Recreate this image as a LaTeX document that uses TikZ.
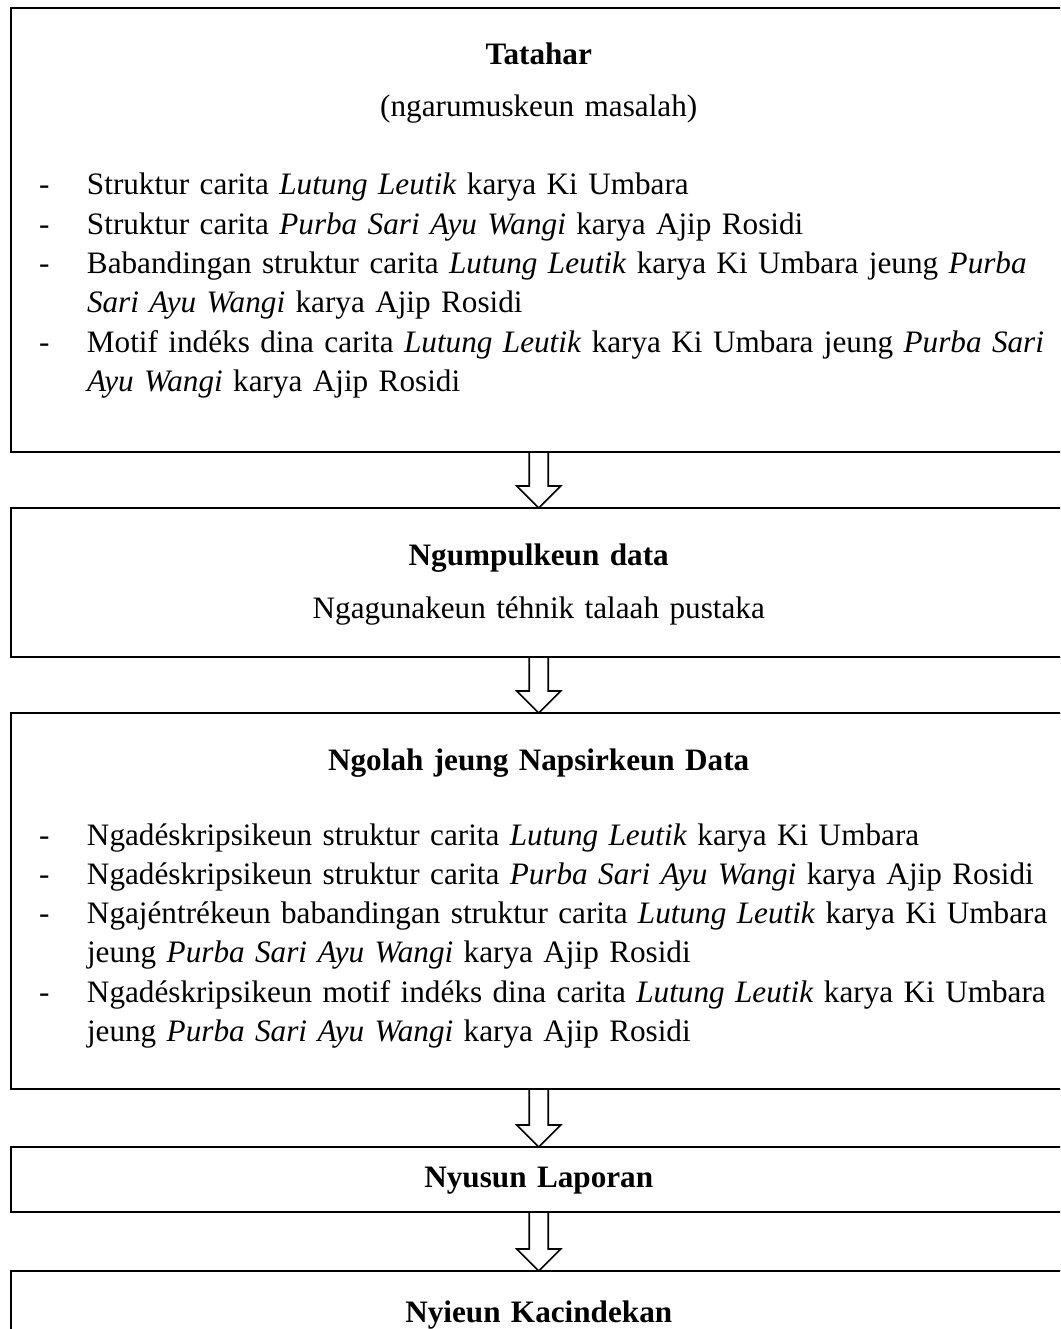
\documentclass[tikz,border=0pt]{standalone}
\usepackage{fontspec}
\setmainfont{Liberation Serif}
\usetikzlibrary{calc}
\usetikzlibrary{positioning}

\newcommand{\stagehead}[1]{{\centering\bfseries #1\par}}
\newcommand{\stageline}[1]{{\centering #1\par}}
% one-line point
\newcommand{\stageitem}[1]{{\leftskip=28.5pt\noindent\makebox[48pt][l]{-}#1\par}}
% two-line point, first line set full width
\newcommand{\stageitemtwo}[2]{{\leftskip=28.5pt
    \noindent\makebox[48pt][l]{-}\hbox to 964pt{#1}\par
    \noindent\hspace*{48pt}#2\par}}

\begin{document}
\begin{tikzpicture}[
    stage/.style={draw, line width=2pt, inner sep=0pt, outer sep=0pt, anchor=north west,
        text width=1056.5pt, font=\fontsize{31.2}{39.3}\selectfont},
    blockarrow/.style={line width=1.6pt, line join=miter}
]
    \useasboundingbox (0,0) rectangle (1060pt,-1329pt);
    \clip (0,0) rectangle (1060pt,-1329pt);

    \node[stage, text height=57pt, text depth=387pt] (tatahar) at (10.5pt,-8pt) {%
        \stagehead{Tatahar}\vspace{12.7pt}
        \stageline{(ngarumuskeun masalah)}\vspace{38.7pt}
        \stageitem{Struktur carita \textit{Lutung Leutik} karya Ki Umbara}
        \stageitem{Struktur carita \textit{Purba Sari Ayu Wangi} karya Ajip Rosidi}
        \stageitemtwo{Babandingan struktur carita \textit{Lutung Leutik} karya Ki Umbara jeung \textit{Purba}}
            {\textit{Sari Ayu Wangi} karya Ajip Rosidi}
        \stageitemtwo{Motif indéks dina carita \textit{Lutung Leutik} karya Ki Umbara jeung \textit{Purba Sari}}
            {\textit{Ayu Wangi} karya Ajip Rosidi}};

    \node[stage, below=56pt of tatahar, text height=57pt, text depth=92pt] (ngumpul) {%
        \stagehead{Ngumpulkeun data}\vspace{13.7pt}
        \stageline{Ngagunakeun téhnik talaah pustaka}};

    \node[stage, below=56pt of ngumpul, text height=57pt, text depth=319pt] (ngolah) {%
        \stagehead{Ngolah jeung Napsirkeun Data}\vspace{35.7pt}
        \stageitem{Ngadéskripsikeun struktur carita \textit{Lutung Leutik} karya Ki Umbara}
        \stageitem{Ngadéskripsikeun struktur carita \textit{Purba Sari Ayu Wangi} karya Ajip Rosidi}
        \stageitemtwo{Ngajéntrékeun babandingan struktur carita \textit{Lutung Leutik} karya Ki Umbara}
            {jeung \textit{Purba Sari Ayu Wangi} karya Ajip Rosidi}
        \stageitemtwo{Ngadéskripsikeun motif indéks dina carita \textit{Lutung Leutik} karya Ki Umbara}
            {jeung \textit{Purba Sari Ayu Wangi} karya Ajip Rosidi}};

    \node[stage, below=58pt of ngolah, text height=40pt, text depth=25pt] (nyusun) {%
        \stagehead{Nyusun Laporan}};

    \node[stage, below=59pt of nyusun, text height=51pt, text depth=100pt] (nyieun) {%
        \stagehead{Nyieun Kacindekan}};

    % hollow arrows between the stages
    \foreach \a/\b in {tatahar/ngumpul, ngumpul/ngolah, ngolah/nyusun, nyusun/nyieun} {
        \draw[blockarrow] let \p1=(\a.south), \p2=(\b.north) in
            (\x1-9.5pt,\y1) -- (\x1-9.5pt,\y2+22pt) -- (\x1-22pt,\y2+22pt) -- (\x2,\y2)
            -- (\x1+22pt,\y2+22pt) -- (\x1+9.5pt,\y2+22pt) -- (\x1+9.5pt,\y1);
    }
\end{tikzpicture}
\end{document}
